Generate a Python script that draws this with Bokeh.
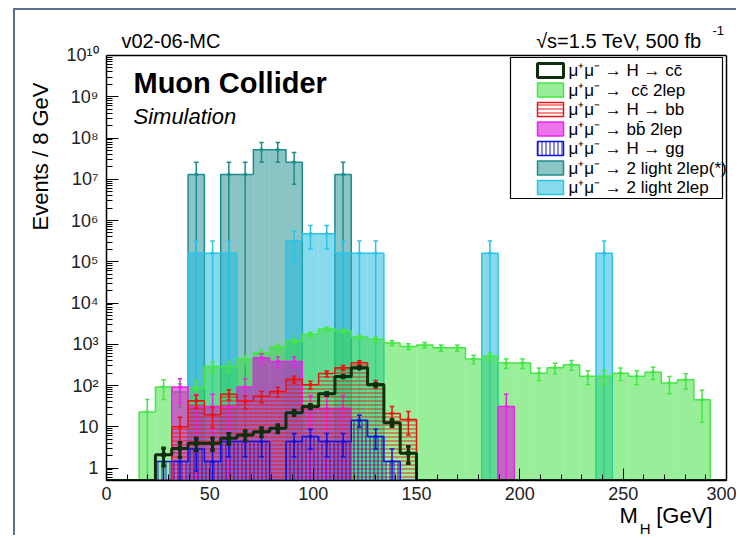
import numpy as np
from bokeh.plotting import figure
from bokeh.models import (Range1d, Label, Title, Span, LogAxis, CustomJSTickFormatter,
                          FixedTicker, ColumnDataSource)
from bokeh.core.properties import value
from bokeh.embed import file_html
from bokeh.resources import INLINE

# ---------------- data (38 bins from 0 to 300 GeV) ----------------
N_BINS = 38
X_MIN, X_MAX = 0.0, 300.0
Y_MIN, Y_MAX = 0.5, 1e10

h_cc = [0, 0, 0, 2.1, 3.0, 4.0, 4.0, 5.3, 6.3, 7.6, 9.2, 22, 31, 63, 165, 270, 105, 12.6, 2.3,
        0, 0, 0, 0, 0, 0, 0, 0, 0, 0, 0, 0, 0, 0, 0, 0, 0, 0, 0]
cc_2lep = [0, 0, 23, 92, 70, 88, 290, 290, 440, 620, 860, 1200, 1750, 2350, 2100, 1500, 1320,
           1080, 890, 960, 820, 820, 440, 510, 350, 350, 200, 270, 320, 167, 167, 200, 167,
           210, 115, 138, 45, 0]
h_bb = [0, 0, 0, 0, 10, 43, 19.5, 62, 42, 55, 72, 142, 105, 195, 270, 355, 110, 21, 15,
        0, 0, 0, 0, 0, 0, 0, 0, 0, 0, 0, 0, 0, 0, 0, 0, 0, 0, 0]
bb_2lep = [0, 0, 0, 0, 92, 31, 31, 31, 92, 470, 385, 385, 28, 28, 28, 0, 0, 0, 0,
           0, 0, 0, 0, 0, 31, 0, 0, 0, 0, 0, 0, 0, 0, 0, 0, 0, 0, 0]
h_gg = [0, 0, 0, 1.45, 1.45, 2.9, 1.45, 4.4, 4.4, 4.4, 0, 4.4, 5.8, 4.4, 4.4, 14.5, 5.8, 1.45,
        0, 0, 0, 0, 0, 0, 0, 0, 0, 0, 0, 0, 0, 0, 0, 0, 0, 0, 0, 0]
light_2lep_star = [0, 0, 0, 0, 0, 1.3e7, 0, 1.3e7, 1.3e7, 5.2e7, 5.2e7, 2.6e7, 0, 0, 1.3e7,
                   0, 0, 0, 0, 0, 0, 0, 0, 0, 0, 0, 0, 0, 0, 0, 0, 0, 0, 0, 0, 0, 0, 0]
light_2lep = [0, 0, 0, 0, 0, 1.6e5, 1.6e5, 1.6e5, 0, 0, 0, 3.2e5, 4.8e5, 4.8e5, 1.6e5, 1.6e5,
              1.6e5, 0, 0, 0, 0, 0, 0, 1.6e5, 0, 0, 0, 0, 0, 0, 1.6e5, 0, 0, 0, 0, 0, 0, 0]

# per-event weight of each sample (sets the Poisson error bars)
w_cc, w_cc2l, w_bb, w_bb2l, w_gg, w_l2s, w_l2 = 0.45, 23, 5, 31, 1.45, 1.3e7, 1.6e5

labels = ["μ⁺μ⁻ → H → cc̄", "μ⁺μ⁻ →\u00a0 cc̄ 2lep", "μ⁺μ⁻ → H → bb", "μ⁺μ⁻ → bb̄ 2lep",
          "μ⁺μ⁻ → H → gg", "μ⁺μ⁻ → 2 light 2lep(*)", "μ⁺μ⁻ → 2 light 2lep"]

# ---------------- layout ----------------
OFF_X, OFF_Y = 15, 10          # figure position in the page
W, H = 723, 527
FR_L, FR_T, FR_R, FR_B = 91, 2, 12, 57   # frame reaches up to the page top
PX_DEC = 41.26                 # pixels per decade
Y_TOP = 10 ** (np.log10(Y_MAX) + (55 - OFF_Y - FR_T) / PX_DEC)
FONT = "Liberation Sans"

p = figure(width=W, height=H, y_axis_type="log", output_backend="svg", toolbar_location=None,
           x_range=Range1d(X_MIN, X_MAX), y_range=Range1d(Y_MIN, Y_TOP),
           min_border_left=FR_L, min_border_top=FR_T, min_border_right=FR_R,
           min_border_bottom=FR_B, title_location=None)
p.styles = {"margin-left": "13px", "margin-top": "8px",
            "border-left": "2px solid #5b6f8e", "border-top": "2px solid #5b6f8e"}
p.grid.visible = False
p.outline_line_alpha = 0
p.background_fill_color = "white"
p.border_fill_color = "white"

for ax in (p.xaxis[0], p.yaxis[0]):
    ax.axis_line_color = "black"
    ax.axis_line_width = 1.5
    ax.major_tick_line_color = "black"
    ax.minor_tick_line_color = "black"
    ax.major_tick_out = 0
    ax.minor_tick_out = 0
    ax.major_tick_in = 12
    ax.minor_tick_in = 6
    ax.major_label_text_font = FONT
    ax.major_label_text_font_size = "18px"
    ax.major_label_text_color = "#222222"

p.xaxis.ticker = FixedTicker(ticks=list(range(0, 301, 50)),
                             minor_ticks=list(range(0, 301, 10)))
p.xaxis.major_label_standoff = 6
dec = [10.0 ** e for e in range(0, 11)]
minor = [k * d for d in [0.1] + dec for k in range(2, 10) if k * d < Y_MAX]
p.yaxis.ticker = FixedTicker(ticks=dec, minor_ticks=minor)
p.yaxis.bounds = (Y_MIN, Y_MAX)
p.yaxis.major_label_standoff = 8
p.yaxis.formatter = CustomJSTickFormatter(code="""
const e = Math.round(Math.log10(tick));
if (e == 0) return "1";
if (e == 1) return "10";
const sup = {"0":"\u2070","1":"\u00b9","2":"\u00b2","3":"\u00b3","4":"\u2074",
             "5":"\u2075","6":"\u2076","7":"\u2077","8":"\u2078","9":"\u2079","-":"\u207b"};
return "10" + String(e).split("").map(c => sup[c]).join("");
""")

# right and top edges of the frame box
rax = LogAxis(bounds=(Y_MIN, Y_MAX), ticker=FixedTicker(ticks=[]),
              major_label_text_font_size="0px", axis_line_color="black",
              axis_line_width=1.5, major_tick_line_alpha=0, minor_tick_line_alpha=0)
p.add_layout(rax, "right")
p.add_layout(Span(location=Y_MAX, dimension="width", line_color="black", line_width=1.5))

edges = np.linspace(X_MIN, X_MAX, N_BINS + 1)
lefts, rights = edges[:-1], edges[1:]
centers = 0.5 * (lefts + rights)
CAP = 1.1


def draw_hist(vals, w, line_color, fill_color=None, fill_alpha=0.0, hatch=None,
              lw=1.5, msize=3):
    v = np.asarray(vals, dtype=float)
    nz = v > 0
    src = ColumnDataSource(dict(left=lefts[nz], right=rights[nz], top=v[nz],
                                bottom=np.full(int(nz.sum()), Y_MIN)))
    kw = dict(line_alpha=0)
    if fill_color is not None:
        kw.update(fill_color=fill_color, fill_alpha=fill_alpha)
    else:
        kw.update(fill_alpha=0)
    if hatch is not None:
        kw.update(hatch_pattern=hatch, hatch_color=line_color, hatch_scale=4,
                  hatch_weight=1, hatch_alpha=0.9)
    p.quad(left="left", right="right", top="top", bottom="bottom", source=src, **kw)
    # outline
    vv = np.where(nz, v, Y_MIN)
    xs = np.repeat(edges, 2)
    ys = np.concatenate([[Y_MIN], np.repeat(vv, 2), [Y_MIN]])
    p.line(xs, ys, line_color=line_color, line_width=lw)
    # error bars
    err = np.sqrt(v * w)
    c = centers[nz]
    hi = (v + err)[nz]
    lo_raw = (v - err)[nz]
    lo = np.where(lo_raw > 1e-6, lo_raw, 1e-3)
    p.segment(c, lo, c, hi, line_color=line_color, line_width=lw)
    p.segment(c - CAP, hi, c + CAP, hi, line_color=line_color, line_width=lw)
    has_lo = lo_raw > 1e-6
    p.segment(c[has_lo] - CAP, lo_raw[has_lo], c[has_lo] + CAP, lo_raw[has_lo],
              line_color=line_color, line_width=lw)
    p.scatter(c, v[nz], size=msize, color=line_color)


C_CC, C_G, C_R, C_M, C_B, C_T, C_C = "#0c2e0c", "#44e844", "#ee1111", "#ee22ee", "#1111dd", "#1f8c8c", "#2ac4e8"
F_G, F_M, F_T, F_C = "#33dd33", "#dd00dd", "#188a8a", "#22bbdd"

draw_hist(light_2lep_star, w_l2s, C_T, F_T, 0.5)
draw_hist(light_2lep, w_l2, C_C, F_C, 0.55)
draw_hist(cc_2lep, w_cc2l, C_G, F_G, 0.5)
draw_hist(bb_2lep, w_bb2l, C_M, F_M, 0.55)
draw_hist(h_bb, w_bb, C_R, None, 0.0, hatch="horizontal_line")
draw_hist(h_gg, w_gg, C_B, None, 0.0, hatch="vertical_line")
draw_hist(h_cc, w_cc, C_CC, None, 0.0, lw=3, msize=5)

# ---------------- pixel -> data helpers for decorations ----------------
LOG_LO, LOG_TOP = np.log10(Y_MIN), np.log10(Y_TOP)
FR_W, FR_H = W - FR_L - FR_R, H - FR_T - FR_B
def dx(px):
    return X_MIN + (px - OFF_X - FR_L) / FR_W * (X_MAX - X_MIN)
def dy(py):
    return 10 ** (LOG_TOP - (py - OFF_Y - FR_T) / FR_H * (LOG_TOP - LOG_LO))

# ---------------- legend (box, swatches, texts) ----------------
LEG_L, LEG_R, LEG_T, LEG_B = 510, 722, 57, 198
ROW0, ROW_DY = 70, 19.5
SW_L, SW_R, SW_H, TXT_X = 537, 563, 14, 568
p.quad(left=[dx(LEG_L)], right=[dx(LEG_R)], top=[dy(LEG_T)], bottom=[dy(LEG_B)],
       fill_color="white", line_color="black", line_width=1.2)
styles = [dict(fill_color="white", line_color=C_CC, line_width=3),
          dict(fill_color=F_G, fill_alpha=0.5, line_color=C_G, line_width=1.5),
          dict(fill_alpha=0, line_color=C_R, line_width=1.5, hatch_pattern="horizontal_line",
               hatch_color=C_R, hatch_scale=4, hatch_weight=1),
          dict(fill_color=F_M, fill_alpha=0.55, line_color=C_M, line_width=1.5),
          dict(fill_alpha=0, line_color=C_B, line_width=1.5, hatch_pattern="vertical_line",
               hatch_color=C_B, hatch_scale=4, hatch_weight=1),
          dict(fill_color=F_T, fill_alpha=0.5, line_color=C_T, line_width=1.5),
          dict(fill_color=F_C, fill_alpha=0.55, line_color=C_C, line_width=1.5)]
rows = [ROW0 + i * ROW_DY for i in range(len(labels))]
for ry, st in zip(rows, styles):
    p.quad(left=[dx(SW_L)], right=[dx(SW_R)], top=[dy(ry - SW_H / 2)],
           bottom=[dy(ry + SW_H / 2)], **st)
p.text(x=[dx(TXT_X)] * len(labels), y=[dy(r) for r in rows], text=labels,
       text_font=value(FONT), text_font_size=value("17px"), text_baseline="middle",
       text_color="black")

# ---------------- texts ----------------
def txt(text, px, py, size, align="left", style="normal"):
    p.add_layout(Label(x=dx(px), y=dy(py), text=text, text_font=FONT,
                       text_font_size=size, text_align=align, text_baseline="middle",
                       text_font_style=style, text_color="black"))

txt("v02-06-MC", 121, 40, "20px")
txt("√s=1.5 TeV, 500 fb", 701, 40, "20px", align="right")
txt("-1", 712, 30, "13px")
txt("Muon Collider", 133, 82, "29px", style="bold")
txt("Simulation", 133, 116, "22px", style="italic")

p.add_layout(Title(text="Events / 8 GeV", align="right", offset=70, standoff=21,
                   text_font=FONT, text_font_size="22px", text_font_style="normal",
                   text_color="black"), "left")
p.add_layout(Title(text="M\u00a0\u00a0 [GeV]", align="right", offset=14, standoff=-3,
                   text_font=FONT, text_font_size="22px", text_font_style="normal",
                   text_color="black"), "below")
p.add_layout(Title(text="H", align="right", offset=76, standoff=-18,
                   text_font=FONT, text_font_size="15px", text_font_style="normal",
                   text_color="black"), "below")

open("out.html", "w", encoding="utf-8").write(file_html(p, INLINE))
